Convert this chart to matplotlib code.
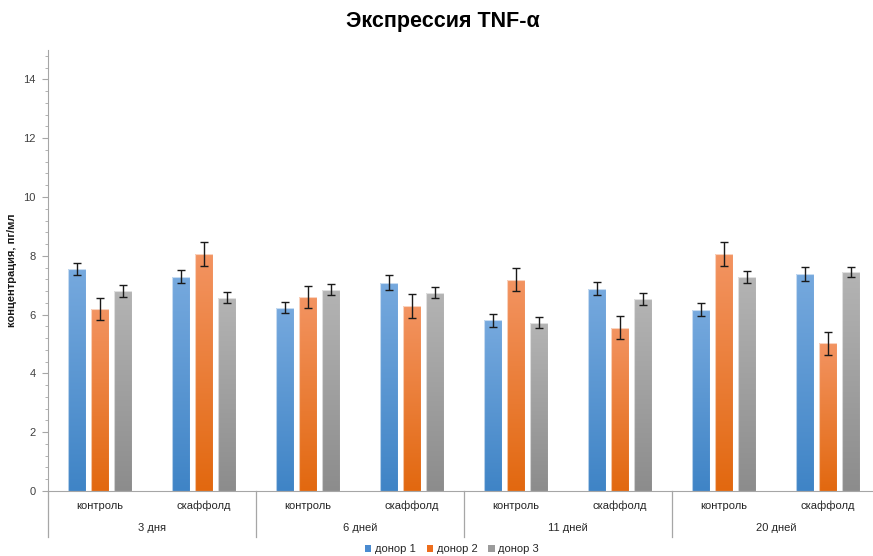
import numpy as np
import matplotlib
matplotlib.use("Agg")
import matplotlib.pyplot as plt
from matplotlib.colors import LinearSegmentedColormap
from matplotlib.patches import Patch
from matplotlib.lines import Line2D

plt.rcParams['font.family'] = ['Liberation Sans', 'DejaVu Sans']

# --- data ---
days = ["3 дня", "6 дней", "11 дней", "20 дней"]
conditions = ["контроль", "скаффолд"]
series = ["донор 1", "донор 2", "донор 3"]

# values per (day, condition) category, in order 3д-к, 3д-с, 6д-к, 6д-с, ...
donor1 = [7.55, 7.29, 6.24, 7.08, 5.80, 6.88, 6.16, 7.37]
donor2 = [6.20, 8.07, 6.60, 6.30, 7.19, 5.56, 8.06, 5.02]
donor3 = [6.81, 6.58, 6.85, 6.75, 5.73, 6.54, 7.28, 7.45]

err1 = [0.22, 0.22, 0.20, 0.25, 0.22, 0.22, 0.22, 0.24]
err2 = [0.38, 0.40, 0.38, 0.40, 0.40, 0.40, 0.40, 0.39]
err3 = [0.20, 0.20, 0.18, 0.20, 0.18, 0.20, 0.20, 0.18]

values = [donor1, donor2, donor3]
errors = [err1, err2, err3]

# gradient colours (top, bottom) and legend colours
grad = [("#76a9de", "#3f84c6"), ("#f39462", "#e2680f"), ("#b4b4b4", "#8c8c8c")]
solid = ["#4a8bd0", "#ed6d1c", "#9b9b9b"]

W, H = 873, 556
fig = plt.figure(figsize=(W / 100, H / 100), dpi=100)
left_px, right_px, bottom_px, top_px = 48, 880, 491, 50
ax = fig.add_axes([left_px / W, 1 - bottom_px / H,
                   (right_px - left_px) / W, (bottom_px - top_px) / H])

n_cat = len(donor1)
x = np.arange(n_cat)
bw = 0.173
offs = [-0.221, 0.0, 0.221]

ax.set_xlim(-0.5, n_cat - 0.5)
ax.set_ylim(0, 15)

for s in range(3):
    bars = ax.bar(x + offs[s], values[s], width=bw, color="none",
                  edgecolor="none", zorder=2)
    cmap = LinearSegmentedColormap.from_list("g%d" % s, [grad[s][1], grad[s][0]])
    for b in bars:
        x0, y0 = b.get_x(), b.get_y()
        w, h = b.get_width(), b.get_height()
        grd = np.linspace(0, 1, 256).reshape(-1, 1)
        im = ax.imshow(grd, cmap=cmap, origin="lower", aspect="auto",
                       extent=(x0, x0 + w, y0, y0 + h), zorder=2)
        im.set_clip_path(b)
        ax.add_patch(plt.Rectangle((x0, y0), w, h, fill=False,
                                   edgecolor="white", lw=0.8, alpha=0.6, zorder=3))
    ax.errorbar(x + offs[s], values[s], yerr=errors[s], fmt="none",
                ecolor="#1a1a1a", elinewidth=1.0, capsize=3, capthick=1.0, zorder=4)

# axes styling
for sp in ["top", "right"]:
    ax.spines[sp].set_visible(False)
ax.spines["left"].set_color("#a6a6a6")
ax.spines["bottom"].set_color("#a6a6a6")
ax.set_yticks(np.arange(0, 15, 2))
ax.set_yticks(np.arange(0, 15.01, 0.4), minor=True)
ax.tick_params(axis="y", which="major", length=4, color="#a6a6a6",
               labelsize=8, labelcolor="#404040", pad=5)
ax.tick_params(axis="y", which="minor", length=2.5, color="#a6a6a6")
ax.set_xticks([])
ax.set_ylabel("концентрация, пг/мл", fontsize=8, fontweight="bold",
              color="#1a1a1a")
ax.yaxis.set_label_coords((17 - left_px) / (right_px - left_px), 0.5)

# two-level category axis
trans = ax.get_xaxis_transform()
ax_h = bottom_px - top_px
y_sub = -15 / ax_h
y_grp = -37 / ax_h
y_sep = -46 / ax_h
for i in range(n_cat):
    ax.text(x[i], y_sub, conditions[i % 2], transform=trans, ha="center",
            va="center", fontsize=8, color="#262626")
for g, d in enumerate(days):
    ax.text(2 * g + 0.5, y_grp, d, transform=trans, ha="center", va="center",
            fontsize=8, color="#262626")
for g in range(len(days) + 1):
    ax.add_line(Line2D([2 * g - 0.5, 2 * g - 0.5], [0, y_sep], transform=trans,
                       color="#a6a6a6", lw=0.9, clip_on=False))

fig.text(443 / W, 1 - 22 / H, "Экспрессия TNF-α", ha="center", va="center",
         fontsize=15.5, fontweight="bold", color="#000000")

handles = [Patch(facecolor=c, edgecolor="none") for c in solid]
fig.legend(handles, series, loc="center", bbox_to_anchor=(452 / W, 1 - 549 / H),
           ncol=3, frameon=False, fontsize=8, handlelength=0.6, handleheight=0.6,
           handletextpad=0.3, columnspacing=1.0, labelcolor="#262626")

fig.savefig("out.png", dpi=100)
